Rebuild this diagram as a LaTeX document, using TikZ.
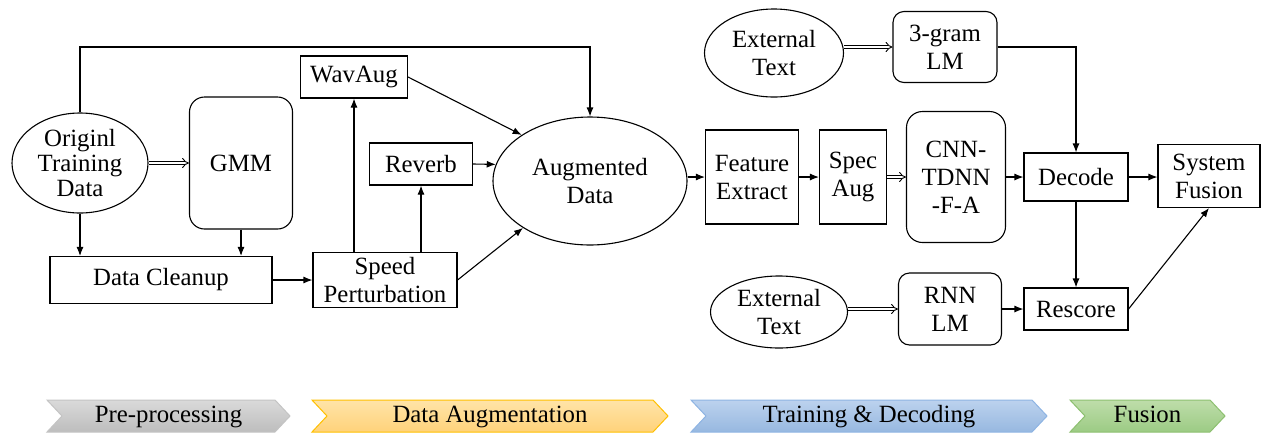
\documentclass[tikz,border=0pt]{standalone}
\usepackage{fontspec}
\setmainfont{Liberation Serif}
\usepackage{xcolor}
\usetikzlibrary{positioning,arrows.meta,shapes.geometric}
\definecolor{phgrayA}{HTML}{DADADA}
\definecolor{phgrayB}{HTML}{BDBDBD}
\definecolor{phgrayD}{HTML}{C4C4C4}
\definecolor{phyelA}{HTML}{FFE4A8}
\definecolor{phyelB}{HTML}{FFD27A}
\definecolor{phyelD}{HTML}{FFC000}
\definecolor{phblueA}{HTML}{BCD2EE}
\definecolor{phblueB}{HTML}{97B8E0}
\definecolor{phblueD}{HTML}{8EB4E3}
\definecolor{phgreenA}{HTML}{BEDDAA}
\definecolor{phgreenB}{HTML}{9CCB84}
\definecolor{phgreenD}{HTML}{8DC070}
\newcommand{\diagfont}{\fontsize{24.8}{28}\selectfont}

\begin{document}
\begin{tikzpicture}[
    x=1pt, y=-1pt,
    line width=1.1pt,
    box/.style={draw, rectangle, font=\diagfont, align=center, inner sep=2pt},
    rbox/.style={box, rounded corners=13pt},
    oval/.style={draw, ellipse, font=\diagfont, align=center, inner sep=0pt},
    lbl/.style={font=\diagfont, align=center, inner sep=0pt, text height=17pt, text depth=6pt},
    arr/.style={-{Latex[length=9pt,width=7pt]}},
    dbl/.style={double, double distance=2.6pt, line width=0.9pt, -{Implies}}
]
    \useasboundingbox (0,0) rectangle (1262,432);

    % Pre-processing
    \node[oval, minimum width=136pt, minimum height=100pt, inner ysep=-6pt, font=\fontsize{24.8}{25}\selectfont] (orig) at (80,163) {Originl\\Training\\Data};
    \node[rbox, minimum width=103pt, minimum height=132pt, rounded corners=15pt] (gmm) at (241,163) {GMM};
    \node[box, minimum width=222pt, minimum height=47pt] (clean) at (161,280) {Data Cleanup};

    % Data augmentation
    \node[box, minimum width=144pt, minimum height=55pt] (speed) at (385,280) {Speed\\Perturbation};
    \node[box, minimum width=107pt, minimum height=42pt] (wav) at (354,77) {WavAug};
    \node[box, minimum width=103pt, minimum height=42pt] (rev) at (421,164) {Reverb};
    \node[oval, minimum width=194pt, minimum height=128pt] (aug) at (590,181) {Augmented\\Data};

    % Training and decoding
    \node[box, minimum width=93pt, minimum height=94pt] (feat) at (752,177) {Feature\\Extract};
    \node[box, minimum width=67pt, minimum height=94pt] (spec) at (853,177) {Spec\\Aug};
    \node[rbox, minimum width=99pt, minimum height=131pt, rounded corners=16pt] (cnn) at (956,177) {CNN-\\TDNN\\-F-A};
    \node[box, minimum width=104pt, minimum height=48pt] (dec) at (1076,177) {Decode};
    \node[box, minimum width=104pt, minimum height=42pt] (resc) at (1076,309) {Rescore};
    \node[oval, minimum width=139pt, minimum height=88pt] (ext1) at (774,53) {External\\Text};
    \node[rbox, minimum width=104pt, minimum height=71pt, rounded corners=11pt] (tri) at (945,47) {3-gram\\LM};
    \node[oval, minimum width=137pt, minimum height=72pt, inner ysep=-4pt] (ext2) at (779,312) {External\\Text};
    \node[rbox, minimum width=103pt, minimum height=72pt, rounded corners=11pt] (rnn) at (950,309) {RNN\\LM};

    % Fusion
    \node[box, minimum width=102pt, minimum height=63pt] (fus) at (1209,176) {System\\Fusion};

    % Connections
    \coordinate (topline) at (0,47);
    \draw[arr] (orig.north) -- (orig.north |- topline) -| (aug.north);
    \draw[dbl] (orig.east) -- (gmm.west);
    \draw[arr] (orig.south) -- (orig.south |- clean.north);
    \draw[arr] (gmm.south) -- (gmm.south |- clean.north);
    \draw[arr] (clean.east) -- (speed.west);
    \draw[arr] (wav.south |- speed.north) -- (wav.south);
    \draw[arr] (rev.south |- speed.north) -- (rev.south);
    \draw[arr] (wav.east) -- (aug.146);
    \draw[arr] (rev.east) -- (aug.170);
    \draw[arr] (speed.east) -- (aug.215);
    \draw[arr] (feat.west -| aug.east) -- (feat.west);
    \draw[arr] (feat.east) -- (spec.west);
    \draw[dbl] (spec.east) -- (cnn.west);
    \draw[arr] (cnn.east) -- (dec.west);
    \draw[arr] (dec.east) -- (dec.east -| fus.west);
    \draw[dbl] (tri.west -| ext1.east) -- (tri.west);
    \draw[arr] (tri.east) -| (dec.north);
    \draw[arr] (dec.south) -- (resc.north);
    \draw[dbl] (rnn.west -| ext2.east) -- (rnn.west);
    \draw[arr] (rnn.east) -- (resc.west);
    \draw[arr] (resc.east) -- (fus.south);

    % Phase bar
    \foreach \xa/\xb/\fa/\fb/\bd/\txt [count=\i] in {
        47/290/phgrayA/phgrayB/phgrayD/Pre-processing,
        312/668/phyelA/phyelB/phyelD/Data Augmentation,
        691/1047/phblueA/phblueB/phblueD/Training \& Decoding,
        1070/1225/phgreenA/phgreenB/phgreenD/Fusion}{
        \draw[draw=\bd, top color=\fa, bottom color=\fb, line width=1pt]
            (\xa,400) -- (\xb-15,400) -- (\xb,416) -- (\xb-15,432) -- (\xa,432) -- (\xa+15,416) -- cycle;
        \node[lbl] (ph\i) at ({(\xa+\xb)/2},417) {\txt};
    }
\end{tikzpicture}
\end{document}
